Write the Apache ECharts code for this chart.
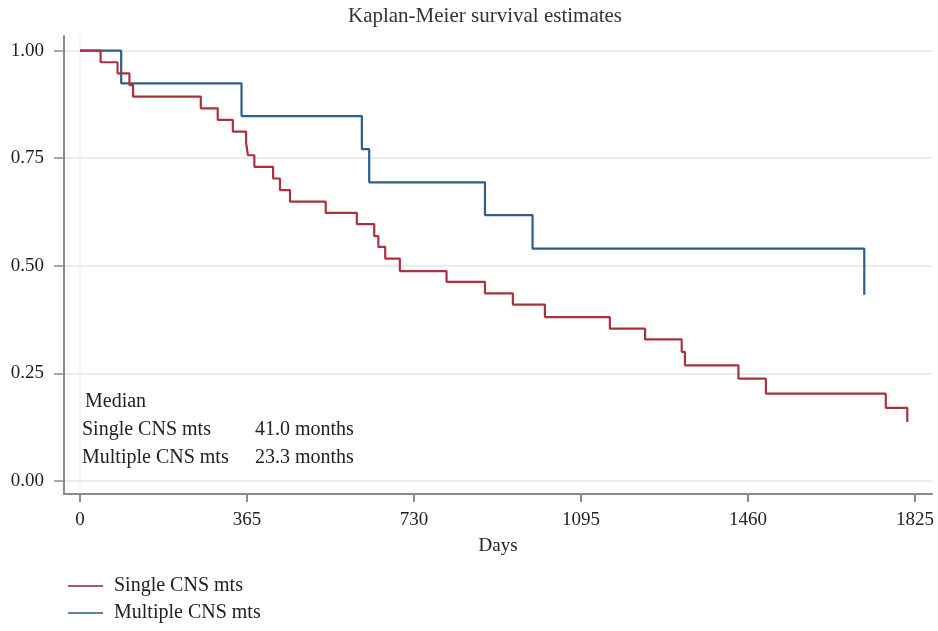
<!DOCTYPE html>
<html>
<head>
<meta charset="utf-8">
<script src="https://cdn.jsdelivr.net/npm/echarts@6/dist/echarts.min.js"></script>
<style>
html,body{margin:0;padding:0;background:#fff;}
#chart{width:938px;height:631px;}
</style>
</head>
<body>
<div id="chart"></div>
<script>
// Kaplan-Meier step data (days, survival probability)
var singleTimes = [0, 45, 82, 108, 116, 264, 301, 334, 363, 367, 381, 422, 437, 459, 537, 605, 643, 652, 667, 699, 801, 885, 946, 1016, 1158, 1235, 1315, 1322, 1439, 1499, 1761, 1808];
var singleSurv  = [1, 0.973, 0.947, 0.920, 0.893, 0.866, 0.839, 0.812, 0.785, 0.757, 0.730, 0.703, 0.676, 0.649, 0.623, 0.597, 0.569, 0.544, 0.517, 0.488, 0.463, 0.436, 0.410, 0.381, 0.354, 0.329, 0.300, 0.269, 0.238, 0.203, 0.170, 0.137];
var multipleTimes = [0, 90, 353, 616, 632, 885, 989, 1714];
var multipleSurv  = [1, 0.924, 0.848, 0.771, 0.694, 0.618, 0.540, 0.433];

var xTicks = [0, 365, 730, 1095, 1460, 1825];
var yTicks = [0, 0.25, 0.5, 0.75, 1];

var seriesNames = ['Single CNS mts', 'Multiple CNS mts'];
var medianTitle = 'Median';
var medianGroups = ['Single CNS mts', 'Multiple CNS mts'];
var medianValues = ['41.0 months', '23.3 months'];

var titleText = 'Kaplan-Meier survival estimates';
var xName = 'Days';

function pairs(t, s) {
  var out = [];
  for (var i = 0; i < t.length; i++) out.push([t[i], s[i]]);
  return out;
}

var FONT = 'Liberation Serif';
var RED = '#a83340';
var BLUE = '#2e5d89';
var LEG_RED = '#8e2233';
var LEG_BLUE = '#2a5a8a';

var chart = echarts.init(document.getElementById('chart'));

var graphics = [];
graphics.push({type:'text', left:85, top:392, style:{text:medianTitle, font:'20px "Liberation Serif"', fill:'#222'}});
for (var i = 0; i < medianGroups.length; i++) {
  graphics.push({type:'text', left:82, top:420 + i*28, style:{text:medianGroups[i], font:'20px "Liberation Serif"', fill:'#222'}});
  graphics.push({type:'text', left:255, top:420 + i*28, style:{text:medianValues[i], font:'20px "Liberation Serif"', fill:'#222'}});
}

function legendFor(name, top, color) {
  return {
    orient: 'horizontal',
    left: 68,
    top: top,
    padding: 0,
    icon: 'rect',
    itemWidth: 35,
    itemHeight: 1.4,
    data: [{name: name, itemStyle: {color: color}}],
    textStyle: {fontFamily: FONT, fontSize: 20, color: '#222', padding: [0,0,0,6]}
  };
}

var option = {
  backgroundColor: '#fff',
  animation: false,
  title: {
    text: titleText,
    left: 480,
    textAlign: 'center',
    top: 1,
    textStyle: {fontFamily: FONT, fontSize: 21, fontWeight: 'normal', color: '#333'}
  },
  grid: {left: 64, right: 6, top: 36, bottom: 137, outerBoundsMode: 'none'},
  legend: [
    legendFor(seriesNames[0], 576, LEG_RED),
    legendFor(seriesNames[1], 603, LEG_BLUE)
  ],
  xAxis: {
    type: 'value',
    min: -35,
    max: 1862,
    name: xName,
    nameLocation: 'middle',
    nameGap: 43,
    nameTextStyle: {fontFamily: FONT, fontSize: 19, color: '#222'},
    axisLine: {show: true, onZero: false, lineStyle: {color: '#8a8a8a', width: 2}},
    axisTick: {show: true, length: 8, customValues: xTicks, lineStyle: {color: '#8a8a8a', width: 2}},
    axisLabel: {customValues: xTicks, margin: 17, fontFamily: FONT, fontSize: 19, color: '#222',
      formatter: function (v) { return String(v); }},
    splitLine: {show: false}
  },
  yAxis: [{
    type: 'value',
    min: -0.030,
    max: 1.034,
    axisLine: {show: true, onZero: false, lineStyle: {color: '#8a8a8a', width: 2}},
    axisTick: {show: true, length: 10, customValues: yTicks, lineStyle: {color: '#8a8a8a', width: 1.5}},
    axisLabel: {customValues: yTicks, margin: 20, fontFamily: FONT, fontSize: 19, color: '#222',
      formatter: function (v) { return v.toFixed(2); }},
    splitLine: {show: true, lineStyle: {color: '#e7eef2', width: 2}}
  }, {
    type: 'value',
    position: 'right',
    min: -0.030,
    max: 1.034,
    axisLine: {show: true, lineStyle: {color: '#eef2f5', width: 1.5}},
    axisTick: {show: false},
    axisLabel: {show: false},
    splitLine: {show: false}
  }],
  series: [{
    name: seriesNames[0],
    type: 'line',
    step: 'end',
    symbol: 'none',
    z: 3,
    data: pairs(singleTimes, singleSurv),
    itemStyle: {color: RED},
    lineStyle: {color: RED, width: 2.2}
  }, {
    name: seriesNames[1],
    type: 'line',
    step: 'end',
    symbol: 'none',
    z: 2,
    data: pairs(multipleTimes, multipleSurv),
    itemStyle: {color: BLUE},
    lineStyle: {color: BLUE, width: 2.2}
  }],
  graphic: graphics
};
chart.setOption(option);
</script>
</body>
</html>
